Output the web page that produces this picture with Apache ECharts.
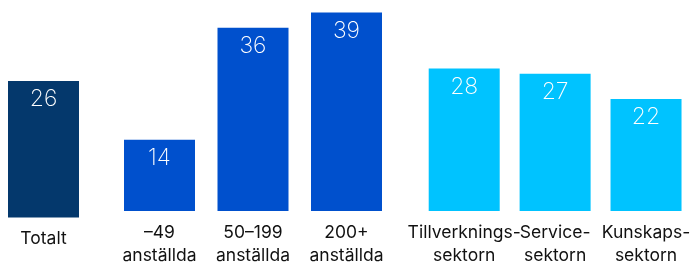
<!DOCTYPE html>
<html>
<head>
<meta charset="utf-8">
<script src="https://cdn.jsdelivr.net/npm/echarts@6/dist/echarts.min.js"></script>
<style>
  html, body { margin: 0; padding: 0; background: #fff; }
  #main { width: 693px; height: 267px; }
</style>
</head>
<body>
<div id="main"></div>
<script>
var totalCats = ['Totalt'];
var totalVals = [26];
var sizeCats = ['–49\nanställda', '50–199\nanställda', '200+\nanställda'];
var sizeVals = [14, 36, 39];
var sectorCats = ['Tillverknings-\nsektorn', 'Service-\nsektorn', 'Kunskaps-\nsektorn'];
var sectorVals = [28, 27, 22];

var colors = ['#04386c', '#0050cd', '#00c3ff'];
var font = 'Inter, "Noto Sans", sans-serif';

var myChart = echarts.init(document.getElementById('main'));

var grids = [
    {left: 0, width: 87, top: 7.5, bottom: 49.5},
    {left: 112.75, width: 280.5, top: 7.5, bottom: 49.5},
    {left: 418.75, width: 274.5, top: 7.5, bottom: 49.5}
];
var groups = [
    {cats: totalCats, vals: totalVals},
    {cats: sizeCats, vals: sizeVals},
    {cats: sectorCats, vals: sectorVals}
];

var xAxes = [], yAxes = [], series = [];
groups.forEach(function (g, i) {
    xAxes.push({
        type: 'category',
        gridIndex: i,
        data: g.cats,
        axisLine: {show: false},
        axisTick: {show: false},
        axisLabel: {
            interval: 0,
            margin: 10,
            color: '#111',
            fontSize: 17.5,
            lineHeight: 23,
            fontFamily: font
        }
    });
    yAxes.push({
        type: 'value',
        gridIndex: i,
        min: 0,
        max: 40,
        show: false,
        splitLine: {show: false}
    });
    series.push({
        type: 'bar',
        xAxisIndex: i,
        yAxisIndex: i,
        data: g.vals,
        barWidth: 71,
        itemStyle: {color: colors[i]},
        label: {
            show: true,
            position: 'insideTop',
            distance: 7,
            color: '#fff',
            fontSize: 23,
            fontWeight: 200,
            fontFamily: font
        }
    });
});

option = {
    animation: false,
    grid: grids,
    xAxis: xAxes,
    yAxis: yAxes,
    series: series
};

myChart.setOption(option);
</script>
</body>
</html>
